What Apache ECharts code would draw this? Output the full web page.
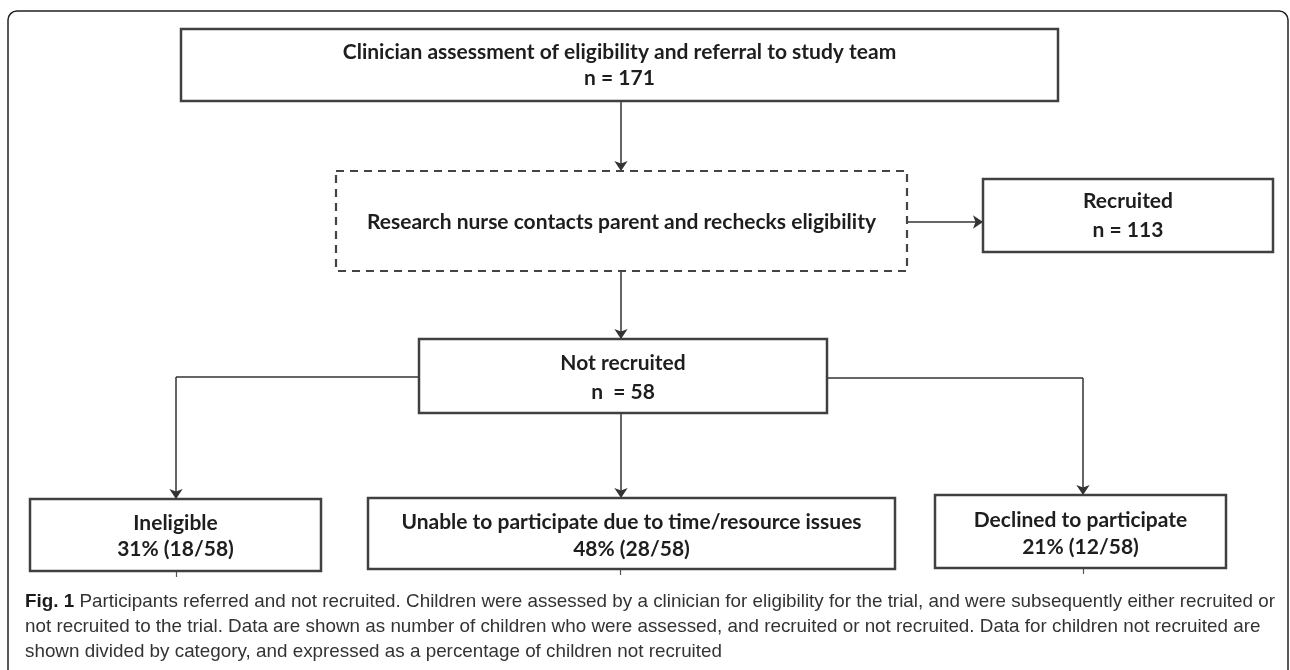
<!DOCTYPE html>
<html><head><meta charset="utf-8">
<script src="https://cdn.jsdelivr.net/npm/echarts@6/dist/echarts.min.js"></script>
<style>html,body{margin:0;padding:0;background:#fff}#c{width:1290px;height:670px}</style>
</head><body><div id="c"></div>
<script>
// ---------- data ----------
const stageNames = ['Clinician assessment of eligibility and referral to study team',
  'Research nurse contacts parent and rechecks eligibility', 'Recruited', 'Not recruited'];
const stageCounts = [171, null, 113, 58];
const outcomeNames = ['Ineligible', 'Unable to participate due to time/resource issues', 'Declined to participate'];
const outcomeCounts = [18, 28, 12];
const outcomePercents = [31, 48, 21];
const outcomeTotal = 58;
const captionBold = 'Fig. 1';
const captionLines = [
  ' Participants referred and not recruited. Children were assessed by a clinician for eligibility for the trial, and were subsequently either recruited or',
  'not recruited to the trial. Data are shown as number of children who were assessed, and recruited or not recruited. Data for children not recruited are',
  'shown divided by category, and expressed as a percentage of children not recruited'
];

// ---------- layout (pixel space of a hidden 1290 x 670 cartesian grid) ----------
const W = 1290, H = 670;
const boxFont = 'bold 21px Lato, "Open Sans", sans-serif';
const capFontFamily = '"Liberation Sans Narrow", "Liberation Sans", sans-serif';
const capSize = 19;
const boxes = [
  {x0:181, y0:29,  x1:1058, y1:101, ty:[52, 78]},
  {x0:336, y0:171, x1:907,  y1:271, ty:[222], dashed:true},
  {x0:983, y0:179, x1:1273, y1:252, ty:[201, 230]},
  {x0:419, y0:339, x1:827,  y1:413, ty:[363, 392]},
  {x0:30,  y0:499, x1:321,  y1:571, ty:[523, 549]},
  {x0:368, y0:498, x1:895,  y1:569, ty:[522, 549]},
  {x0:935, y0:495, x1:1226, y1:568, ty:[520, 547]}
];
const boxTexts = [
  [stageNames[0], 'n = ' + stageCounts[0]],
  [stageNames[1]],
  [stageNames[2], 'n = ' + stageCounts[2]],
  [stageNames[3], 'n  = ' + stageCounts[3]]
].concat(outcomeNames.map((n, i) => [n, outcomePercents[i] + '% (' + outcomeCounts[i] + '/' + outcomeTotal + ')']));

// connector legs without heads, and final legs with arrow heads
const legs = [
  [[419,377],[176,377]],
  [[827,378],[1083,378]]
];
const arrows = [
  [[621,101],[621,171]],
  [[907,222],[983,222]],
  [[621,271],[621,339]],
  [[176,377],[176,499]],
  [[621,413],[621,498]],
  [[1083,378],[1083,495]]
];
const ticks = [
  [[176,571],[176,577]],
  [[620,569],[620,575]],
  [[1083,568],[1083,574]]
];

// ---------- caption fitting ----------
const cv = document.createElement('canvas').getContext('2d');
function measure(font, t){ cv.font = font; return cv.measureText(t).width; }
const capReg = capSize + 'px ' + capFontFamily;
const capBoldF = 'bold ' + capSize + 'px ' + capFontFamily;
const line1W = measure(capBoldF, captionBold) + measure(capReg, captionLines[0]);
const capScale = 1250 / line1W;
const capY = [602, 627, 652];

const chart = echarts.init(document.getElementById('c'), null, {renderer:'canvas'});
chart.setOption({
  backgroundColor:'#ffffff',
  animation:false,
  grid:{left:0, right:0, top:0, bottom:0},
  xAxis:{type:'value', min:0, max:W, show:false},
  yAxis:{type:'value', min:0, max:H, inverse:true, show:false},
  graphic:[
    {type:'rect', z:1, shape:{x:8, y:11, width:1280, height:720, r:9},
     style:{fill:null, stroke:'#222', lineWidth:1.5}}
  ].concat(captionLines.map((t, i) => ({
    type:'text', z:5, x:25, y:capY[i], scaleX:capScale, originX:0, originY:0,
    style:{
      text: i === 0 ? '{b|' + captionBold + '}' + t : t,
      font: capReg, fill:'#333', verticalAlign:'middle', align:'left',
      rich:{b:{font: capBoldF, fill:'#1a1a1a'}}
    }
  }))),
  series:[
    {
      type:'lines', coordinateSystem:'cartesian2d', z:2,
      symbol:['none','none'],
      lineStyle:{color:'#333', width:1.5, opacity:1},
      data: legs.map(c => ({coords:c}))
    },
    {
      type:'lines', coordinateSystem:'cartesian2d', z:2,
      symbol:['none','arrow'], symbolSize:10,
      itemStyle:{color:'#222'},
      lineStyle:{color:'#333', width:1.5, opacity:1},
      data: arrows.map(c => ({coords:c}))
    },
    {
      type:'lines', coordinateSystem:'cartesian2d', z:2,
      symbol:['none','none'],
      lineStyle:{color:'#555', width:1.2, opacity:1},
      data: ticks.map(c => ({coords:c}))
    },
    {
      type:'custom', coordinateSystem:'cartesian2d', z:3,
      data: boxes.map((b, i) => [i]),
      renderItem(params, api){
        const b = boxes[params.dataIndex];
        const p0 = api.coord([b.x0, b.y0]), p1 = api.coord([b.x1, b.y1]);
        const children = [{
          type:'rect',
          shape:{x:p0[0], y:p0[1], width:p1[0]-p0[0], height:p1[1]-p0[1]},
          style:{fill:'#fff', stroke: b.dashed ? '#444' : '#404040',
                 lineWidth: b.dashed ? 2.2 : 2.5, lineDash: b.dashed ? [8,6] : null}
        }];
        boxTexts[params.dataIndex].forEach((txt, k) => {
          const pt = api.coord([(b.x0 + b.x1) / 2, b.ty[k]]);
          children.push({type:'text', style:{text:txt, x:pt[0], y:pt[1], align:'center',
            verticalAlign:'middle', font: boxFont, fill:'#1e1e1e'}});
        });
        return {type:'group', children};
      }
    }
  ]
});
</script></body></html>
